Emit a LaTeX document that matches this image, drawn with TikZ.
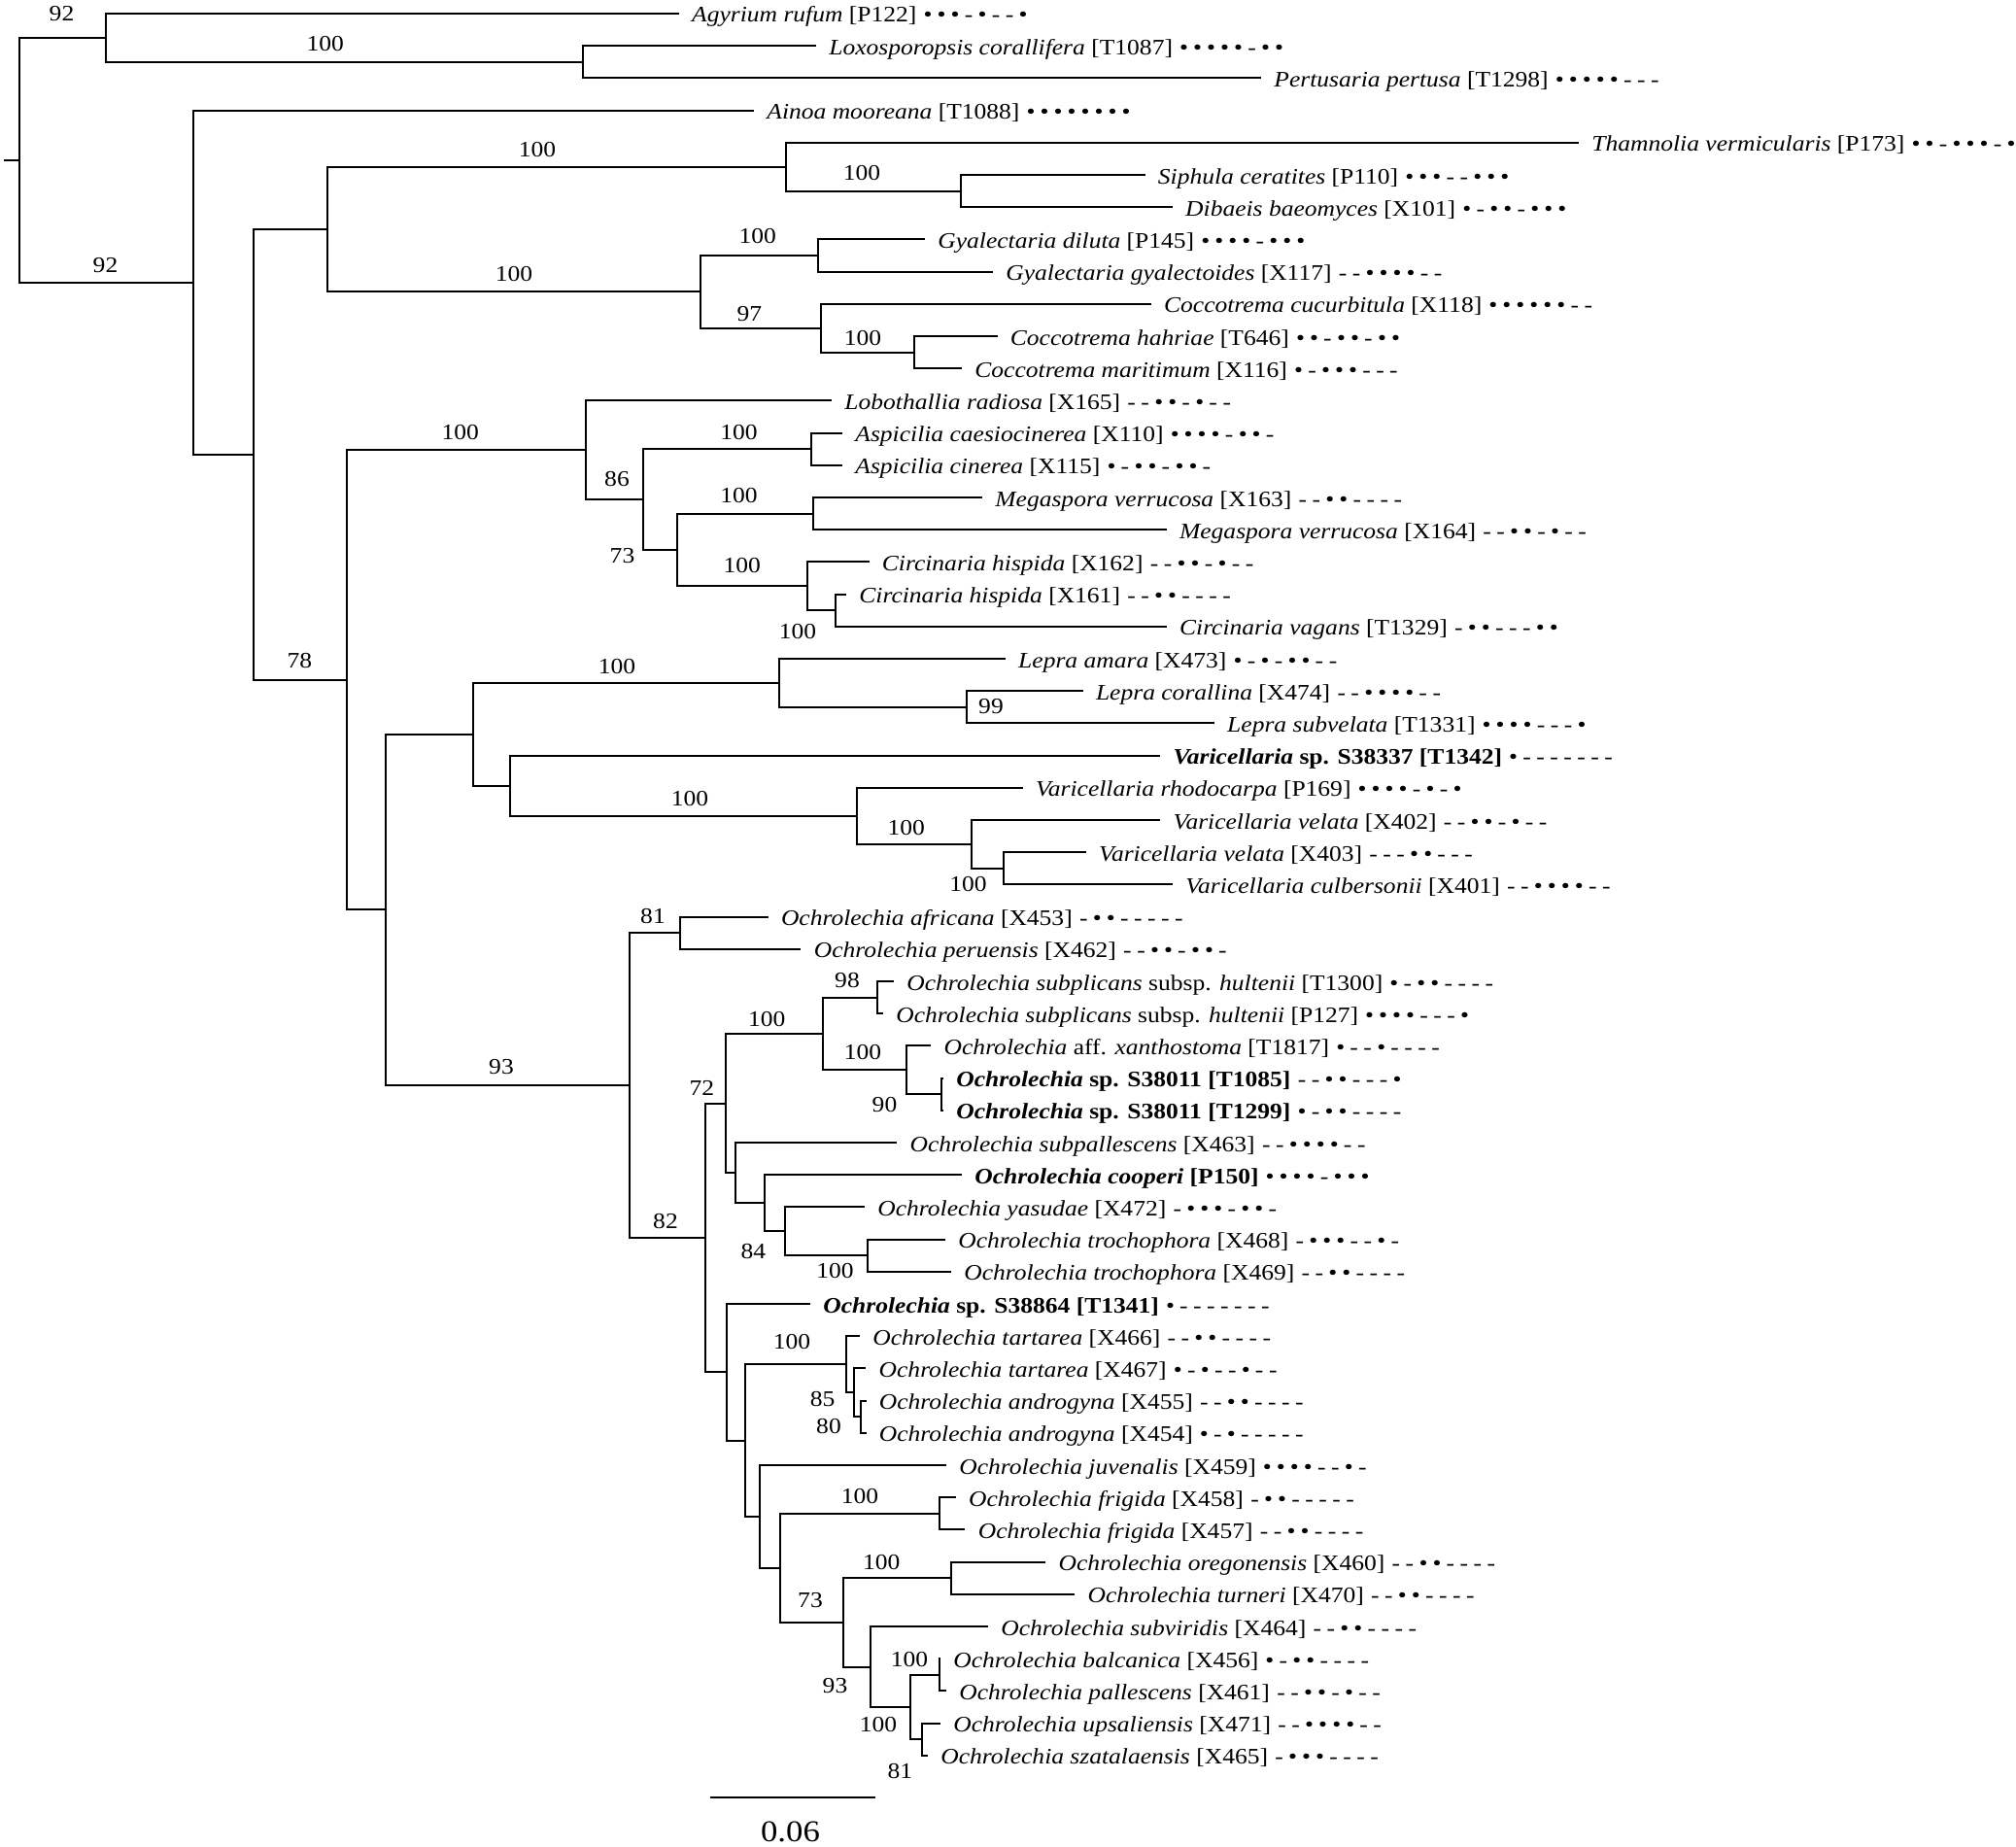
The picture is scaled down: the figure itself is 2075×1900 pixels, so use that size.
\documentclass[tikz,border=0pt]{standalone}
\usepackage{fontspec}
\setmainfont{Liberation Serif}[FakeStretch=1.12]
\def\mypatx#1{\ifx#1\relax\else\ifx#1o\makebox[7pt]{•}\else\makebox[7pt]{-}\fi\expandafter\mypatx\fi}
\newcommand\mypat[1]{\hspace{2.3pt}\mypatx#1\relax}
\newcommand\lblfont{\fontsize{11.4}{13}\selectfont}
\tikzset{
  br/.style={line width=1pt},
  leaf/.style={anchor=base west, inner xsep=6.5pt, inner ysep=0pt, yshift=-4.5pt, font=\lblfont},
  sup/.style={inner sep=0pt, font=\lblfont},
}
\begin{document}
\begin{tikzpicture}[x=0.5pt,y=-0.5pt]
\useasboundingbox (0,0) rectangle (2075,1900);
% leaves
\coordinate (l0) at (698.8,14.0);
\coordinate (l1) at (839.9,47.2);
\coordinate (l2) at (1298,80.4);
\coordinate (l3) at (776,113.6);
\coordinate (l4) at (1625,146.8);
\coordinate (l5) at (1178.5,180.0);
\coordinate (l6) at (1206.8,213.2);
\coordinate (l7) at (952,246.4);
\coordinate (l8) at (1022,279.6);
\coordinate (l9) at (1184.7,312.8);
\coordinate (l10) at (1026.5,346.0);
\coordinate (l11) at (990,379.2);
\coordinate (l12) at (856,412.4);
\coordinate (l13) at (867,445.6);
\coordinate (l14) at (867,478.8);
\coordinate (l15) at (1011,512.0);
\coordinate (l16) at (1200.7,545.2);
\coordinate (l17) at (894.5,578.4);
\coordinate (l18) at (871,611.6);
\coordinate (l19) at (1200.7,644.8);
\coordinate (l20) at (1034.8,678.0);
\coordinate (l21) at (1114.6,711.2);
\coordinate (l22) at (1249.8,744.4);
\coordinate (l23) at (1194.3,777.6);
\coordinate (l24) at (1052.7,810.8);
\coordinate (l25) at (1194.3,844.0);
\coordinate (l26) at (1117.8,877.2);
\coordinate (l27) at (1207,910.4);
\coordinate (l28) at (790.6,943.6);
\coordinate (l29) at (824.4,976.8);
\coordinate (l30) at (920,1010.0);
\coordinate (l31) at (909,1043.2);
\coordinate (l32) at (958.3,1076.4);
\coordinate (l33) at (971,1109.6);
\coordinate (l34) at (971,1142.8);
\coordinate (l35) at (923.2,1176.0);
\coordinate (l36) at (990,1209.2);
\coordinate (l37) at (890,1242.4);
\coordinate (l38) at (973,1275.6);
\coordinate (l39) at (979,1308.8);
\coordinate (l40) at (834,1342.0);
\coordinate (l41) at (885,1375.2);
\coordinate (l42) at (891.3,1408.4);
\coordinate (l43) at (891.5,1441.6);
\coordinate (l44) at (891.5,1474.8);
\coordinate (l45) at (974,1508.0);
\coordinate (l46) at (983.8,1541.2);
\coordinate (l47) at (993.4,1574.4);
\coordinate (l48) at (1076.3,1607.6);
\coordinate (l49) at (1106.3,1640.8);
\coordinate (l50) at (1017,1674.0);
\coordinate (l51) at (968,1707.2);
\coordinate (l52) at (974,1740.4);
\coordinate (l53) at (968,1773.6);
\coordinate (l54) at (955,1806.8);
% internal nodes
\coordinate (r0) at (4,164.8);
\coordinate (root) at (19.85,164.8);
\coordinate (nTop) at (108.5,38.9);
\coordinate (nLP) at (599.5,63.8);
\coordinate (n150) at (198.5,290.75);
\coordinate (n197) at (260.7,467.9);
\coordinate (nTG) at (337.4,236.0);
\coordinate (nTh) at (808.8,171.7);
\coordinate (nSD) at (988.5,196.6);
\coordinate (nGC) at (721,300.35);
\coordinate (nGy) at (841.6,263.0);
\coordinate (nCo) at (845.4,337.7);
\coordinate (nCh) at (941,362.6);
\coordinate (n270) at (357.3,699.8);
\coordinate (nLob) at (603.4,463.25);
\coordinate (n86) at (661.7,514.1);
\coordinate (nAsp) at (835.2,462.2);
\coordinate (n73) at (697.4,565.95);
\coordinate (nMeg) at (837,528.6);
\coordinate (nCirc) at (830.7,603.3);
\coordinate (nC161) at (859.5,628.2);
\coordinate (n300) at (397,936.4);
\coordinate (nLS) at (487,755.8);
\coordinate (nLep) at (802,702.9);
\coordinate (nLc) at (994.7,727.8);
\coordinate (nVar) at (525.3,808.7);
\coordinate (nVr) at (881.8,839.85);
\coordinate (nV2) at (999.8,868.9);
\coordinate (nV3) at (1033,893.8);
\coordinate (nA) at (648.4,1117.05);
\coordinate (n81) at (700,960.2);
\coordinate (nB) at (725.5,1273.9);
\coordinate (nC) at (746.6,1135.5);
\coordinate (n100a) at (846.7,1063.95);
\coordinate (nSub) at (902.8,1026.6);
\coordinate (nXan) at (932.8,1101.3);
\coordinate (nS38) at (969,1126.2);
\coordinate (nD) at (757.4,1207.1);
\coordinate (nE) at (787.4,1238.25);
\coordinate (nF) at (808.4,1267.3);
\coordinate (nTr) at (892.6,1292.2);
\coordinate (nH) at (747.8,1412.3);
\coordinate (nI) at (767,1482.6);
\coordinate (nJ) at (871,1404.25);
\coordinate (nK) at (878.6,1433.3);
\coordinate (nL) at (886.2,1458.2);
\coordinate (nM) at (781.6,1560.9);
\coordinate (nO) at (803.3,1613.8);
\coordinate (nFr) at (966.6,1557.8);
\coordinate (nQ) at (867.7,1669.85);
\coordinate (nOT) at (979.4,1624.2);
\coordinate (nR) at (895.8,1715.5);
\coordinate (nS) at (937.3,1757);
\coordinate (nT) at (966.6,1723.8);
\coordinate (nU) at (948.7,1790.2);
% branches
\draw[br] (r0) -- (root);
\foreach \p/\c in {root/nTop,root/n150,nTop/l0,nTop/nLP,nLP/l1,nLP/l2,
  n150/l3,n150/n197,n197/nTG,n197/n270,nTG/nTh,nTG/nGC,nTh/l4,nTh/nSD,
  nSD/l5,nSD/l6,nGC/nGy,nGC/nCo,nGy/l7,nGy/l8,nCo/l9,nCo/nCh,nCh/l10,nCh/l11,
  n270/nLob,n270/n300,nLob/l12,nLob/n86,n86/nAsp,n86/n73,nAsp/l13,nAsp/l14,
  n73/nMeg,n73/nCirc,nMeg/l15,nMeg/l16,nCirc/l17,nCirc/nC161,nC161/l18,nC161/l19,
  n300/nLS,n300/nA,nLS/nLep,nLS/nVar,nLep/l20,nLep/nLc,nLc/l21,nLc/l22,
  nVar/l23,nVar/nVr,nVr/l24,nVr/nV2,nV2/l25,nV2/nV3,nV3/l26,nV3/l27,
  nA/n81,nA/nB,n81/l28,n81/l29,nB/nC,nB/nH,nC/n100a,nC/nD,n100a/nSub,n100a/nXan,
  nSub/l30,nSub/l31,nXan/l32,nXan/nS38,nS38/l33,nS38/l34,nD/l35,nD/nE,
  nE/l36,nE/nF,nF/l37,nF/nTr,nTr/l38,nTr/l39,nH/l40,nH/nI,nI/nJ,nI/nM,
  nJ/l41,nJ/nK,nK/l42,nK/nL,nL/l43,nL/l44,nM/l45,nM/nO,nO/nFr,nO/nQ,
  nFr/l46,nFr/l47,nQ/nOT,nQ/nR,nOT/l48,nOT/l49,nR/l50,nR/nS,nS/nT,nS/nU,
  nT/l51,nT/l52,nU/l53,nU/l54}
  \draw[br] (\p) |- (\c);
% taxon labels
\node[leaf] (t0) at (l0) {\textit{Agyrium rufum} [P122]\mypat{ooo-o--o}};
\node[leaf] (t1) at (l1) {\textit{Loxosporopsis corallifera} [T1087]\mypat{ooooo-oo}};
\node[leaf] (t2) at (l2) {\textit{Pertusaria pertusa} [T1298]\mypat{ooooo---}};
\node[leaf] (t3) at (l3) {\textit{Ainoa mooreana} [T1088]\mypat{oooooooo}};
\node[leaf] (t4) at (l4) {\textit{Thamnolia vermicularis} [P173]\mypat{oo-ooo-o}};
\node[leaf] (t5) at (l5) {\textit{Siphula ceratites} [P110]\mypat{ooo--ooo}};
\node[leaf] (t6) at (l6) {\textit{Dibaeis baeomyces} [X101]\mypat{o-oo-ooo}};
\node[leaf] (t7) at (l7) {\textit{Gyalectaria diluta} [P145]\mypat{oooo-ooo}};
\node[leaf] (t8) at (l8) {\textit{Gyalectaria gyalectoides} [X117]\mypat{--oooo--}};
\node[leaf] (t9) at (l9) {\textit{Coccotrema cucurbitula} [X118]\mypat{oooooo--}};
\node[leaf] (t10) at (l10) {\textit{Coccotrema hahriae} [T646]\mypat{oo-oo-oo}};
\node[leaf] (t11) at (l11) {\textit{Coccotrema maritimum} [X116]\mypat{o-ooo---}};
\node[leaf] (t12) at (l12) {\textit{Lobothallia radiosa} [X165]\mypat{--oo-o--}};
\node[leaf] (t13) at (l13) {\textit{Aspicilia caesiocinerea} [X110]\mypat{oooo-oo-}};
\node[leaf] (t14) at (l14) {\textit{Aspicilia cinerea} [X115]\mypat{o-oo-oo-}};
\node[leaf] (t15) at (l15) {\textit{Megaspora verrucosa} [X163]\mypat{--oo----}};
\node[leaf] (t16) at (l16) {\textit{Megaspora verrucosa} [X164]\mypat{--oo-o--}};
\node[leaf] (t17) at (l17) {\textit{Circinaria hispida} [X162]\mypat{--oo-o--}};
\node[leaf] (t18) at (l18) {\textit{Circinaria hispida} [X161]\mypat{--oo----}};
\node[leaf] (t19) at (l19) {\textit{Circinaria vagans} [T1329]\mypat{-oo---oo}};
\node[leaf] (t20) at (l20) {\textit{Lepra amara} [X473]\mypat{o-o-oo--}};
\node[leaf] (t21) at (l21) {\textit{Lepra corallina} [X474]\mypat{--oooo--}};
\node[leaf] (t22) at (l22) {\textit{Lepra subvelata} [T1331]\mypat{oooo---o}};
\node[leaf] (t23) at (l23) {\textbf{\textit{Varicellaria} sp. S38337 [T1342]}\mypat{o-------}};
\node[leaf] (t24) at (l24) {\textit{Varicellaria rhodocarpa} [P169]\mypat{oooo-o-o}};
\node[leaf] (t25) at (l25) {\textit{Varicellaria velata} [X402]\mypat{--oo-o--}};
\node[leaf] (t26) at (l26) {\textit{Varicellaria velata} [X403]\mypat{---oo---}};
\node[leaf] (t27) at (l27) {\textit{Varicellaria culbersonii} [X401]\mypat{--oooo--}};
\node[leaf] (t28) at (l28) {\textit{Ochrolechia africana} [X453]\mypat{-oo-----}};
\node[leaf] (t29) at (l29) {\textit{Ochrolechia peruensis} [X462]\mypat{--oo-oo-}};
\node[leaf] (t30) at (l30) {\textit{Ochrolechia subplicans} subsp. \textit{hultenii} [T1300]\mypat{o-oo----}};
\node[leaf] (t31) at (l31) {\textit{Ochrolechia subplicans} subsp. \textit{hultenii} [P127]\mypat{oooo---o}};
\node[leaf] (t32) at (l32) {\textit{Ochrolechia} aff. \textit{xanthostoma} [T1817]\mypat{o--o----}};
\node[leaf] (t33) at (l33) {\textbf{\textit{Ochrolechia} sp. S38011 [T1085]}\mypat{--oo---o}};
\node[leaf] (t34) at (l34) {\textbf{\textit{Ochrolechia} sp. S38011 [T1299]}\mypat{o-oo----}};
\node[leaf] (t35) at (l35) {\textit{Ochrolechia subpallescens} [X463]\mypat{--oooo--}};
\node[leaf] (t36) at (l36) {\textbf{\textit{Ochrolechia cooperi} [P150]}\mypat{oooo-ooo}};
\node[leaf] (t37) at (l37) {\textit{Ochrolechia yasudae} [X472]\mypat{-ooo-oo-}};
\node[leaf] (t38) at (l38) {\textit{Ochrolechia trochophora} [X468]\mypat{-ooo--o-}};
\node[leaf] (t39) at (l39) {\textit{Ochrolechia trochophora} [X469]\mypat{--oo----}};
\node[leaf] (t40) at (l40) {\textbf{\textit{Ochrolechia} sp. S38864 [T1341]}\mypat{o-------}};
\node[leaf] (t41) at (l41) {\textit{Ochrolechia tartarea} [X466]\mypat{--oo----}};
\node[leaf] (t42) at (l42) {\textit{Ochrolechia tartarea} [X467]\mypat{o-o--o--}};
\node[leaf] (t43) at (l43) {\textit{Ochrolechia androgyna} [X455]\mypat{--oo----}};
\node[leaf] (t44) at (l44) {\textit{Ochrolechia androgyna} [X454]\mypat{o-o-----}};
\node[leaf] (t45) at (l45) {\textit{Ochrolechia juvenalis} [X459]\mypat{oooo--o-}};
\node[leaf] (t46) at (l46) {\textit{Ochrolechia frigida} [X458]\mypat{-oo-----}};
\node[leaf] (t47) at (l47) {\textit{Ochrolechia frigida} [X457]\mypat{--oo----}};
\node[leaf] (t48) at (l48) {\textit{Ochrolechia oregonensis} [X460]\mypat{--oo----}};
\node[leaf] (t49) at (l49) {\textit{Ochrolechia turneri} [X470]\mypat{--oo----}};
\node[leaf] (t50) at (l50) {\textit{Ochrolechia subviridis} [X464]\mypat{--oo----}};
\node[leaf] (t51) at (l51) {\textit{Ochrolechia balcanica} [X456]\mypat{o-oo----}};
\node[leaf] (t52) at (l52) {\textit{Ochrolechia pallescens} [X461]\mypat{--oo-o--}};
\node[leaf] (t53) at (l53) {\textit{Ochrolechia upsaliensis} [X471]\mypat{--oooo--}};
\node[leaf] (t54) at (l54) {\textit{Ochrolechia szatalaensis} [X465]\mypat{-ooo----}};
% support values
\node[sup] (s1) at (63.5,14) {92};
\node[sup] (s2) at (334.8,45) {100};
\node[sup] (s3) at (108.5,273) {92};
\node[sup] (s4) at (553,154) {100};
\node[sup] (s5) at (887,178) {100};
\node[sup] (s6) at (529,282) {100};
\node[sup] (s7) at (779.7,243.3) {100};
\node[sup] (s8) at (771.4,322.7) {97};
\node[sup] (s9) at (888,347.7) {100};
\node[sup] (s10) at (473.7,445) {100};
\node[sup] (s11) at (635,493) {86};
\node[sup] (s12) at (760.6,445) {100};
\node[sup] (s13) at (640.5,571.7) {73};
\node[sup] (s14) at (760.6,510) {100};
\node[sup] (s15) at (763.8,581.7) {100};
\node[sup] (s16) at (821,650) {100};
\node[sup] (s17) at (308.3,680) {78};
\node[sup] (s18) at (635,686) {100};
\node[sup] (s19) at (1020,727) {99};
\node[sup] (s20) at (710,822) {100};
\node[sup] (s21) at (932.8,851.7) {100};
\node[sup] (s22) at (996.6,910) {100};
\node[sup] (s23) at (516,1098) {93};
\node[sup] (s24) at (672,943) {81};
\node[sup] (s25) at (872,1009.3) {98};
\node[sup] (s26) at (789.3,1049.3) {100};
\node[sup] (s27) at (888,1083.3) {100};
\node[sup] (s28) at (910.5,1136.7) {90};
\node[sup] (s29) at (722.3,1120) {72};
\node[sup] (s30) at (685,1257) {82};
\node[sup] (s31) at (775.3,1288.3) {84};
\node[sup] (s32) at (859.5,1308.3) {100};
\node[sup] (s33) at (815,1381) {100};
\node[sup] (s34) at (846.7,1440) {85};
\node[sup] (s35) at (853,1468) {80};
\node[sup] (s36) at (885,1540) {100};
\node[sup] (s37) at (907.3,1608.3) {100};
\node[sup] (s38) at (834,1646.7) {73};
\node[sup] (s39) at (859.5,1735) {93};
\node[sup] (s40) at (936,1708.3) {100};
\node[sup] (s41) at (904,1775) {100};
\node[sup] (s42) at (926.4,1823.3) {81};
% scale bar
\coordinate (sb1) at (730.6,1850);
\coordinate (sb2) at (901,1850);
\draw[br] (sb1) -- (sb2);
\node[sup, font=\fontsize{15.5}{18}\selectfont] (sbl) at (813.5,1885) {0.06};
\end{tikzpicture}
\end{document}
